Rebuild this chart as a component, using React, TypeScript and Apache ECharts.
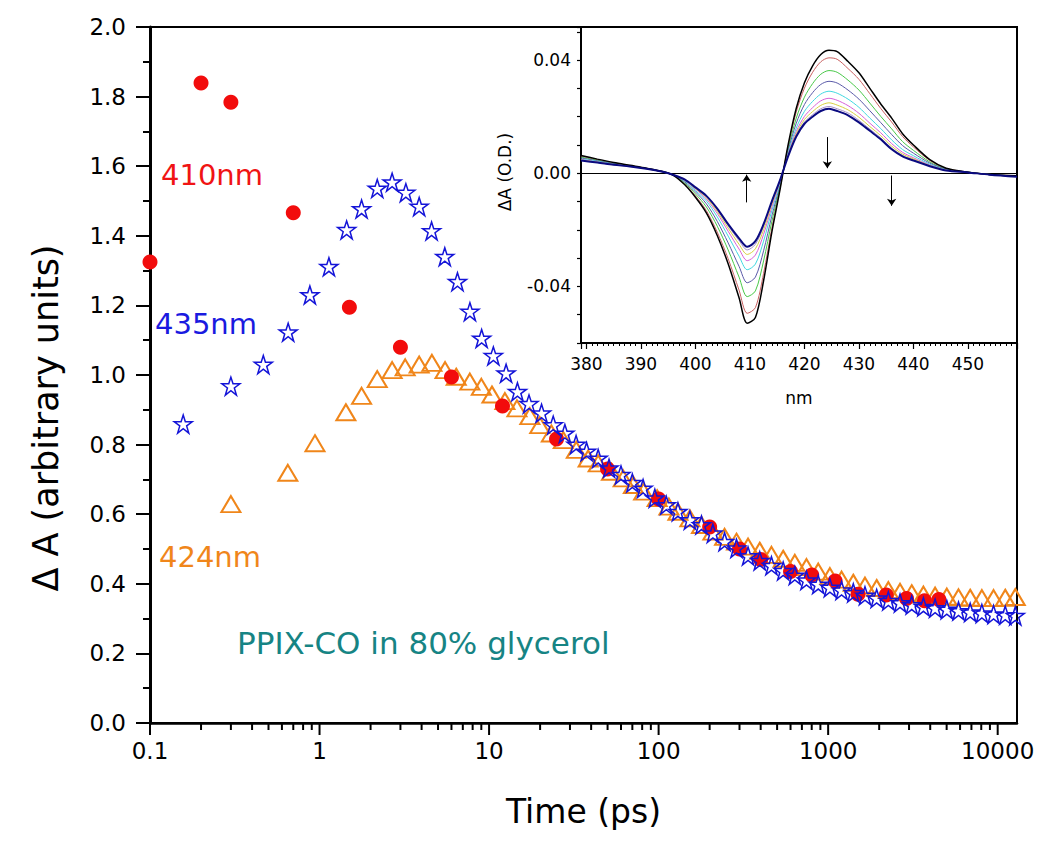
import React, { useEffect, useRef } from 'react';
import * as echarts from 'echarts';

const FONT = 'DejaVu Sans';

// ---------- Main panel data (time in ps, ΔA in arbitrary units) ----------
const t410 = [0.1, 0.2, 0.3, 0.7, 1.5, 3, 6, 12, 25, 50, 100, 200, 300, 400, 600, 800, 1100, 1500, 2200, 2900, 3700, 4500];
const a410 = [1.325, 1.839, 1.784, 1.466, 1.195, 1.08, 0.994, 0.911, 0.816, 0.73, 0.644, 0.563, 0.5, 0.47, 0.435, 0.425, 0.408, 0.37, 0.368, 0.358, 0.351, 0.355];

const t435 = [0.157, 0.3, 0.466, 0.653, 0.877, 1.136, 1.445, 1.77, 2.19, 2.68, 3.23, 3.87, 4.58, 5.48, 6.51, 7.71, 9.04, 10.6, 12.6, 14.7, 17.2, 20.4, 23.9, 28, 32.6, 37.6, 44, 51, 60, 70, 81, 95, 111, 130, 153, 179, 209, 245, 288, 337, 395, 463, 543, 636, 745, 874, 1024, 1200, 1407, 1649, 1933, 2265, 2655, 3112, 3647, 4275, 5011, 5873, 6883, 8067, 9455, 11082, 12700];
const a435 = [0.859, 0.968, 1.03, 1.123, 1.23, 1.311, 1.417, 1.477, 1.536, 1.554, 1.524, 1.484, 1.414, 1.34, 1.268, 1.182, 1.105, 1.055, 1.005, 0.952, 0.917, 0.89, 0.856, 0.832, 0.8, 0.78, 0.76, 0.732, 0.713, 0.69, 0.674, 0.646, 0.626, 0.607, 0.583, 0.569, 0.545, 0.521, 0.502, 0.48, 0.466, 0.452, 0.437, 0.424, 0.41, 0.398, 0.389, 0.381, 0.374, 0.366, 0.358, 0.351, 0.345, 0.339, 0.334, 0.33, 0.326, 0.322, 0.318, 0.315, 0.312, 0.31, 0.308];

const t424 = [0.3, 0.65, 0.94, 1.43, 1.77, 2.19, 2.68, 3.2, 3.87, 4.6, 5.5, 6.4, 7.7, 9.0, 10.4, 12.4, 14.6, 17.4, 19.9, 23.3, 27.4, 32.7, 38.4, 44, 52.7, 61.8, 71, 81.6, 98, 115, 130, 153, 179, 209, 245, 288, 337, 395, 463, 543, 636, 745, 874, 1024, 1200, 1407, 1649, 1933, 2265, 2655, 3112, 3647, 4275, 5011, 5873, 6883, 8067, 9455, 11082, 12700];
const a424 = [0.629, 0.719, 0.804, 0.893, 0.94, 0.988, 1.014, 1.022, 1.03, 1.035, 1.014, 0.995, 0.981, 0.966, 0.944, 0.925, 0.904, 0.882, 0.856, 0.832, 0.813, 0.785, 0.76, 0.746, 0.722, 0.703, 0.684, 0.665, 0.646, 0.622, 0.607, 0.588, 0.569, 0.55, 0.535, 0.521, 0.507, 0.495, 0.483, 0.472, 0.46, 0.448, 0.435, 0.422, 0.412, 0.403, 0.395, 0.388, 0.382, 0.377, 0.373, 0.369, 0.366, 0.363, 0.361, 0.36, 0.359, 0.359, 0.36, 0.362];

// log-axis tick values
const majorTicksX = [0.1, 1, 10, 100, 1000, 10000];
const minorMultipliers = [2, 3, 4, 5, 6, 7, 8, 9];

// ---------- Inset data (wavelength in nm, ΔA in mOD) ----------
const wl = [379, 382, 385, 388, 391, 394, 396, 398, 400, 402, 404, 406, 408, 409.5, 411, 412.5, 414, 415.5, 417, 418.5, 420, 421.5, 423, 424.5, 426, 428, 430, 432, 434, 436, 438, 440, 443, 446, 450, 454, 459];
const spBlack = [6.3, 5.0, 3.8, 2.8, 1.8, 0.6, -0.8, -4.0, -8.5, -14, -22, -32, -44, -53, -51, -38, -21, -6, 10, 23, 32, 38, 42, 43.5, 43, 39.5, 35.5, 30, 24.5, 19.5, 14, 10, 4.8, 1.8, 0.4, -0.4, -0.9];
const spBrown = [6.1, 4.8, 3.7, 2.7, 1.8, 0.6, -0.8, -3.8, -8.0, -13.2, -20.8, -30.2, -41.3, -49.5, -47.5, -35.4, -19.6, -5.5, 9.5, 21.7, 30.1, 35.7, 39.4, 40.8, 40.3, 37.0, 33.2, 28.1, 22.9, 18.1, 13.0, 9.3, 4.5, 1.7, 0.4, -0.4, -0.9];
const spGreen = [5.7, 4.6, 3.5, 2.7, 1.7, 0.6, -0.7, -3.4, -7.3, -11.9, -18.7, -27.1, -36.7, -43.6, -41.6, -31.0, -17.2, -4.8, 8.6, 19.5, 26.9, 31.7, 35.0, 36.3, 35.7, 32.9, 29.4, 24.8, 20.1, 15.7, 11.2, 8.1, 4.0, 1.5, 0.4, -0.4, -1.0];
const spSlate = [5.4, 4.4, 3.4, 2.6, 1.7, 0.5, -0.7, -3.0, -6.6, -10.8, -17.0, -24.6, -32.9, -38.7, -36.7, -27.4, -15.2, -4.1, 7.9, 17.7, 24.3, 28.5, 31.4, 32.5, 31.9, 29.4, 26.2, 22.1, 17.9, 13.7, 9.8, 7.1, 3.6, 1.4, 0.4, -0.5, -1.1];
const spCyan = [5.0, 4.2, 3.2, 2.5, 1.7, 0.5, -0.7, -2.7, -6.1, -9.8, -15.4, -22.2, -29.3, -34.1, -32.1, -24.0, -13.3, -3.6, 7.2, 16.0, 21.9, 25.4, 28.0, 29.0, 28.3, 26.2, 23.3, 19.5, 15.8, 11.8, 8.4, 6.2, 3.2, 1.2, 0.3, -0.5, -1.1];
const spMagenta = [4.8, 4.0, 3.1, 2.5, 1.6, 0.5, -0.6, -2.5, -5.6, -9.1, -14.2, -20.5, -26.8, -30.9, -28.9, -21.6, -12.0, -3.1, 6.7, 14.8, 20.1, 23.2, 25.6, 26.5, 25.8, 23.9, 21.2, 17.7, 14.3, 10.5, 7.4, 5.5, 2.9, 1.1, 0.3, -0.5, -1.1];
const spYellow = [4.7, 3.9, 3.1, 2.4, 1.6, 0.5, -0.6, -2.4, -5.4, -8.6, -13.5, -19.4, -25.1, -28.7, -26.7, -20.0, -11.1, -2.9, 6.4, 14.0, 19.0, 21.8, 24.0, 24.9, 24.1, 22.4, 19.8, 16.5, 13.3, 9.6, 6.8, 5.1, 2.7, 1.1, 0.3, -0.5, -1.2];
const spLavender = [4.6, 3.8, 3.0, 2.4, 1.6, 0.5, -0.6, -2.3, -5.1, -8.2, -12.9, -18.6, -23.8, -27.1, -25.1, -18.8, -10.4, -2.6, 6.2, 13.4, 18.1, 20.7, 22.8, 23.6, 22.8, 21.3, 18.7, 15.6, 12.5, 8.9, 6.3, 4.7, 2.6, 1.0, 0.3, -0.5, -1.2];
const spNavy = [4.5, 3.8, 3.0, 2.4, 1.6, 0.5, -0.6, -2.2, -5, -8, -12.5, -18, -23, -26, -24, -18, -10, -2.5, 6, 13, 17.5, 20, 22, 22.8, 22, 20.5, 18, 15, 12, 8.5, 6, 4.5, 2.5, 1.0, 0.3, -0.5, -1.2];

// arrows in the inset (nm, from mOD, to mOD)
const arrowNm = [409.4, 424.2, 436.0];
const arrowFrom = [-10.3, 12.8, -0.8];
const arrowTo = [-0.5, 1.8, -11.5];

const STAR = 'path://M50,0 L61.8,35.4 L100,35.4 L69.1,57.3 L80.9,95.1 L50,71.6 L19.1,95.1 L30.9,57.3 L0,35.4 L38.2,35.4 Z';

function pairs(xs: number[], ys: number[]) {
  return xs.map((x, i) => [x, ys[i]]);
}

function buildOption() {
  const minorTicksX: number[] = [];
  majorTicksX.slice(0, -1).forEach((d) => minorMultipliers.forEach((m) => minorTicksX.push(d * m)));

  const tickSeries = (vals: number[], len: number) => ({
    type: 'custom',
    xAxisIndex: 0,
    yAxisIndex: 0,
    silent: true,
    z: 10,
    clip: false,
    encode: { x: 0, y: 1 },
    data: vals.map((v) => [v, 0]),
    renderItem: (_p: any, api: any) => {
      const pt = api.coord([api.value(0), 0]);
      return {
        type: 'line',
        shape: { x1: pt[0], y1: pt[1], x2: pt[0], y2: pt[1] + len },
        style: { stroke: '#000', lineWidth: 2 },
      };
    },
  });

  const spectra: [number[], string, number][] = [
    [spBrown, '#c86060', 1],
    [spGreen, '#48c848', 1],
    [spSlate, '#5a5aa8', 1],
    [spCyan, '#40d8e0', 1],
    [spMagenta, '#d860d8', 1],
    [spYellow, '#d8d040', 1],
    [spLavender, '#a890c8', 1],
    [spBlack, '#000000', 1.5],
    [spNavy, '#0a0a80', 2],
  ];

  const spectraSeries = spectra.map(([s, color, w], i) => {
    const base: any = {
      type: 'line',
      xAxisIndex: 1,
      yAxisIndex: 1,
      data: pairs(wl, s),
      showSymbol: false,
      symbol: 'none',
      smooth: 0.3,
      silent: true,
      z: 5 + i * 0.01,
      lineStyle: { color, width: w },
    };
    if (color === '#000000') {
      base.markLine = {
        silent: true,
        symbol: ['none', 'arrow'],
        symbolSize: 7,
        lineStyle: { color: '#000', width: 1, type: 'solid' },
        label: { show: false },
        data: arrowNm.map((nm, k) => [{ coord: [nm, arrowFrom[k]] }, { coord: [nm, arrowTo[k]] }]),
      };
    }
    if (color === '#0a0a80') {
      base.markLine = {
        silent: true,
        symbol: 'none',
        lineStyle: { color: '#000', width: 1.2, type: 'solid' },
        label: { show: false },
        data: [{ yAxis: 0 }],
      };
    }
    return base;
  });

  const textEl = (text: string, x: number, y: number, size: number, fill: string, rot = 0, align = 'left') => ({
    type: 'text',
    x,
    y,
    rotation: rot,
    z: 100,
    silent: true,
    style: {
      text,
      fill,
      fontSize: size,
      fontFamily: FONT,
      textAlign: align,
      align,
      textVerticalAlign: 'middle',
      verticalAlign: 'middle',
    },
  });

  return {
    animation: false,
    backgroundColor: '#fff',
    textStyle: { fontFamily: FONT, color: '#000' },
    grid: [
      { left: 150, top: 27, right: 33, bottom: 121, show: true, borderColor: '#000', borderWidth: 2, containLabel: false },
      { left: 581, top: 27, right: 33, bottom: 501, show: true, backgroundColor: '#fff', borderColor: '#000', borderWidth: 2, containLabel: false },
    ],
    xAxis: [
      {
        gridIndex: 0,
        type: 'log',
        logBase: 10,
        min: 0.1,
        max: 13000,
        axisLine: { show: true, onZero: false, lineStyle: { color: '#000', width: 2.5 } },
        axisTick: { show: false },
        splitLine: { show: false },
        axisLabel: {
          fontSize: 23,
          fontFamily: FONT,
          color: '#000',
          margin: 16,
          formatter: (v: number) => {
            const l = Math.log10(v);
            if (Math.abs(l - Math.round(l)) > 1e-6) return '';
            return v < 1 ? v.toFixed(1) : String(Math.round(v));
          },
        },
        name: 'Time (ps)',
        nameLocation: 'middle',
        nameGap: 72,
        nameTextStyle: { fontSize: 33, fontFamily: FONT, color: '#000' },
      },
      {
        gridIndex: 1,
        type: 'value',
        min: 379,
        max: 459,
        interval: 1,
        position: 'bottom',
        axisLine: { show: true, onZero: false, lineStyle: { color: '#000', width: 2 } },
        axisTick: { show: true, length: 3, lineStyle: { color: '#000', width: 1 } },
        axisLabel: { show: false },
        splitLine: { show: false },
      },
      {
        gridIndex: 1,
        type: 'value',
        min: 379,
        max: 459,
        splitNumber: 8,
        position: 'bottom',
        axisLine: { show: false, onZero: false },
        axisTick: { show: true, length: 6, lineStyle: { color: '#000', width: 1.2 } },
        splitLine: { show: false },
        axisLabel: {
          fontSize: 17,
          fontFamily: FONT,
          color: '#000',
          margin: 12,
          formatter: (v: number) => (Math.abs(v % 10) < 1e-6 ? String(v) : ''),
        },
        name: 'nm',
        nameLocation: 'middle',
        nameGap: 46,
        nameTextStyle: { fontSize: 17, fontFamily: FONT, color: '#000' },
      },
    ],
    yAxis: [
      {
        gridIndex: 0,
        type: 'value',
        min: 0,
        max: 2,
        interval: 0.2,
        axisLine: { show: true, onZero: false, lineStyle: { color: '#000', width: 3 } },
        axisTick: { show: true, length: 14, lineStyle: { color: '#000', width: 2 } },
        minorTick: { show: true, splitNumber: 2, length: 7, lineStyle: { color: '#000', width: 2 } },
        splitLine: { show: false },
        minorSplitLine: { show: false },
        axisLabel: { fontSize: 23, fontFamily: FONT, color: '#000', margin: 24, formatter: (v: number) => v.toFixed(1) },
      },
      {
        gridIndex: 1,
        type: 'value',
        min: -60,
        max: 51.7,
        interval: 10,
        axisLine: { show: true, onZero: false, lineStyle: { color: '#000', width: 2 } },
        axisTick: { show: true, length: 4, lineStyle: { color: '#000', width: 1.2 } },
        splitLine: { show: false },
        axisLabel: {
          fontSize: 17,
          fontFamily: FONT,
          color: '#000',
          margin: 10,
          formatter: (v: number) => {
            const r = Math.round(v);
            if (Math.abs(v - r) > 1e-6 || r % 40 !== 0) return '';
            return (r / 1000).toFixed(2);
          },
        },
      },
    ],
    series: [
      tickSeries(majorTicksX, 12),
      tickSeries(minorTicksX, 7),
      {
        type: 'scatter',
        name: '424nm',
        xAxisIndex: 0,
        yAxisIndex: 0,
        data: pairs(t424, a424),
        symbol: 'triangle',
        symbolSize: [19, 16],
        silent: true,
        z: 3,
        itemStyle: { color: 'rgba(255,255,255,0)', borderColor: '#f0861a', borderWidth: 2, opacity: 1 },
      },
      {
        type: 'scatter',
        name: '410nm',
        xAxisIndex: 0,
        yAxisIndex: 0,
        data: pairs(t410, a410),
        symbol: 'circle',
        symbolSize: 15,
        silent: true,
        z: 4,
        itemStyle: { color: '#f20c0c', opacity: 1 },
      },
      {
        type: 'scatter',
        name: '435nm',
        xAxisIndex: 0,
        yAxisIndex: 0,
        data: pairs(t435, a435),
        symbol: STAR,
        symbolSize: 18,
        silent: true,
        z: 5,
        itemStyle: { color: 'rgba(255,255,255,0)', borderColor: '#1414d8', borderWidth: 1.5, opacity: 1 },
      },
      ...spectraSeries,
    ],
    graphic: [
      textEl('410nm', 161, 175, 29, '#f01414'),
      textEl('435nm', 155, 324, 29, '#1a1ae0'),
      textEl('424nm', 159, 557, 29, '#f0861a'),
      textEl('PPIX-CO in 80% glycerol', 237, 643, 31, '#168484'),
      textEl('Δ A (arbitrary units)', 46, 418, 35, '#000', Math.PI / 2, 'center'),
      textEl('ΔA (O.D.)', 505, 172, 17, '#000', Math.PI / 2, 'center'),
    ],
  };
}

export default function App() {
  const ref = useRef<HTMLDivElement>(null);
  useEffect(() => {
    if (!ref.current) return;
    const chart = echarts.init(ref.current, null, { renderer: 'svg' });
    chart.setOption(buildOption() as any);
    return () => chart.dispose();
  }, []);
  return (
    <div
      ref={ref}
      style={{ position: 'fixed', left: 0, top: 0, width: 1050, height: 844, background: '#fff' }}
    />
  );
}
